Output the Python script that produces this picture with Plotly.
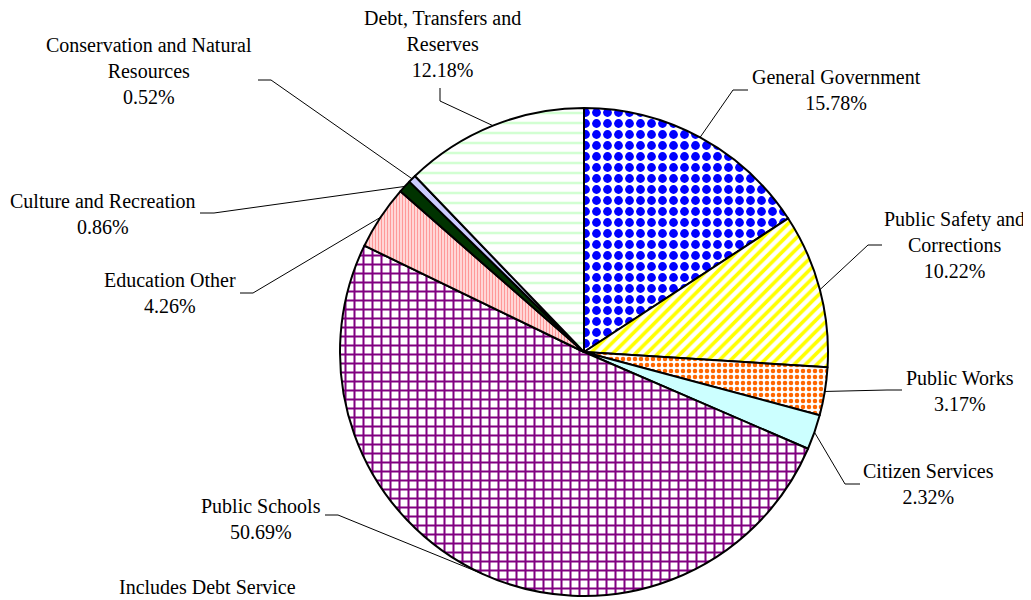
import numpy as np
import plotly.graph_objects as go

# page body has an 8px margin: figure occupies the window from (8, 8)
OFF = 8
W, H = 1031 - OFF, 600 - OFF

# ---------------- data ----------------
categories = ["General Government", "Public Safety and Corrections", "Public Works",
              "Citizen Services", "Public Schools", "Education Other",
              "Culture and Recreation", "Conservation and Natural Resources",
              "Debt, Transfers and Reserves"]
label_lines = ["General Government", "Public Safety and<br>Corrections", "Public Works",
               "Citizen Services", "Public Schools", "Education Other",
               "Culture and Recreation", "Conservation and Natural<br>Resources",
               "Debt, Transfers and<br>Reserves"]
shares = [15.78, 10.22, 3.17, 2.32, 50.69, 4.26, 0.86, 0.52, 12.18]
footnote = "Includes Debt Service"

# ---------------- styles ----------------
fill_colors = ["#FFFFFF", "#FFFFFF", "#FFFFFF", "#CCFFFF", "#FFFFFF",
               "#FFFFFF", "#003300", "#CCCCFF", "#FFFFFF"]
pattern_shapes = [".", "/", ".", "", "+", "|", "", "", "-"]
pattern_fg = ["#0000FF", "#FFFF00", "#FF6600", "#CCFFFF", "#800080",
              "#FF9999", "#003300", "#CCCCFF", "#D2FFD2"]
pattern_bg = ["#FFFFFF", "#FFFFFF", "#FFFFFF", "#CCFFFF", "#FFFFFF",
              "#FFFFFF", "#003300", "#CCCCFF", "#FFFFFF"]
pattern_size = [11, 8, 6, 8, 9, 3, 8, 8, 10]
pattern_sol = [0.5, 0.45, 0.45, 0.5, 0.4, 0.6, 0.5, 0.5, 0.25]

# layout geometry (window pixels)
CX, CY, R = 584, 352, 244
label_xy = [(836, 90), (954, 245), (960, 391), (928, 484), (261, 519),
            (170, 293), (103, 214), (149, 71), (442, 44)]
leader_start = [(748, 90), (882, 245), (902, 390), (860, 484), (325, 515),
                (240, 293), (200, 213), (258, 80), (440, 88)]
leader_elbow = [(733, 90), (868, 245), (887, 390), (845, 484), (338, 515),
                (253, 293), (214, 213), (271, 80), (440, 101)]
footnote_xy = (207, 587)

FONT = "Liberation Serif, Times New Roman, serif"


def px(x):
    return (x - OFF) / W


def py(y):
    return 1 - (y - OFF) / H


fig = go.Figure()
fig.add_trace(go.Pie(
    labels=categories,
    values=shares,
    sort=False,
    direction="clockwise",
    rotation=0,
    textinfo="none",
    hoverinfo="label+percent",
    marker=dict(
        colors=fill_colors,
        line=dict(color="#000000", width=2),
        pattern=dict(shape=pattern_shapes, fgcolor=pattern_fg, bgcolor=pattern_bg,
                     size=pattern_size, solidity=pattern_sol, fillmode="replace"),
    ),
    domain=dict(x=[px(CX - R), px(CX + R)], y=[py(CY + R), py(CY - R)]),
    showlegend=False,
))

annotations = []
shapes = []
total = float(np.sum(shares))
cum = np.cumsum([0.0] + list(shares))
for i, name in enumerate(label_lines):
    mid = (cum[i] + cum[i + 1]) / 2 / total * 2 * np.pi
    ex = CX + R * np.sin(mid)
    ey = CY - R * np.cos(mid)
    sx, sy = leader_start[i]
    bx, by = leader_elbow[i]
    path = f"M {px(sx)},{py(sy)} L {px(bx)},{py(by)} L {px(ex)},{py(ey)}"
    shapes.append(dict(type="path", path=path, xref="paper", yref="paper",
                       line=dict(color="#000000", width=1)))
    lx, ly = label_xy[i]
    annotations.append(dict(
        text=f"{name}<br>{shares[i]:.2f}%", x=px(lx), y=py(ly),
        xref="paper", yref="paper", xanchor="center", yanchor="middle",
        align="center", showarrow=False,
        font=dict(family=FONT, size=20, color="#000000"),
    ))

annotations.append(dict(
    text=footnote, x=px(footnote_xy[0]), y=py(footnote_xy[1]),
    xref="paper", yref="paper", xanchor="center", yanchor="middle",
    showarrow=False, font=dict(family=FONT, size=20, color="#000000"),
))

fig.update_layout(
    width=W, height=H,
    margin=dict(l=0, r=0, t=0, b=0),
    paper_bgcolor="#FFFFFF",
    plot_bgcolor="#FFFFFF",
    annotations=annotations,
    shapes=shapes,
    font=dict(family=FONT, size=20, color="#000000"),
)

fig.write_html("out.html")
